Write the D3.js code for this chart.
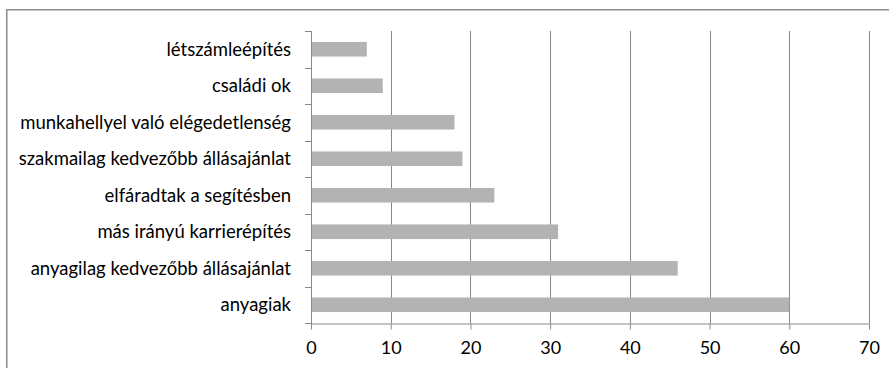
<!DOCTYPE html>
<html><head><meta charset="utf-8">
<script src="https://cdn.jsdelivr.net/npm/d3@7"></script>
<style>body{margin:0;background:#fff;overflow:hidden}svg{display:block}</style>
</head><body>
<svg id="c" width="889" height="368"></svg>
<script>
const categories = ["létszámleépítés","családi ok","munkahellyel való elégedetlenség","szakmailag kedvezőbb állásajánlat","elfáradtak a segítésben","más irányú karrierépítés","anyagilag kedvezőbb állásajánlat","anyagiak"];
const values = [7, 9, 18, 19, 23, 31, 46, 60];
const xTicks = [0,10,20,30,40,50,60,70];

const svg = d3.select("#c");
const font = "Lato, 'Open Sans', sans-serif";
// frame (only left and top edges visible)
svg.append("path").attr("d","M6.75,368 V9.75 H889")
  .attr("fill","none").attr("stroke","#8c8c8c").attr("stroke-width",1.5);

const x = d3.scaleLinear().domain([0,70]).range([311,869]);
const y = d3.scaleBand().domain(categories).range([31,323]).paddingInner(0.6).paddingOuter(0.3);
const band = d3.scaleBand().domain(categories).range([31,323]);

// gridlines
svg.append("g").selectAll("line").data(xTicks.slice(1)).join("line")
  .attr("x1",d=>Math.round(x(d))+0.5).attr("x2",d=>Math.round(x(d))+0.5)
  .attr("y1",31).attr("y2",323).attr("stroke","#878787").attr("stroke-width",1);

// bars
svg.append("g").selectAll("rect").data(values).join("rect")
  .attr("x",x(0)+1).attr("y",(d,i)=>y(categories[i]))
  .attr("width",d=>x(d)-x(0)-1).attr("height",y.bandwidth())
  .attr("fill","#b3b3b3");

// x axis
const xa = svg.append("g").attr("transform","translate(0,323.5)")
  .call(d3.axisBottom(x).tickValues(xTicks).tickSize(6).tickSizeOuter(0).tickPadding(12));
xa.select(".domain").attr("stroke","#878787");
xa.selectAll(".tick line").attr("stroke","#878787");
xa.selectAll("text").attr("font-family",font).attr("font-size","18px").attr("fill","#000");

// y axis line and ticks at band boundaries
svg.append("line").attr("x1",311.5).attr("x2",311.5).attr("y1",31).attr("y2",324).attr("stroke","#878787");
const bounds = categories.map(c=>band(c)).concat([323]);
svg.append("g").selectAll("line").data(bounds).join("line")
  .attr("x1",305).attr("x2",311.5).attr("y1",d=>Math.round(d)+0.5).attr("y2",d=>Math.round(d)+0.5)
  .attr("stroke","#878787");

// y labels
svg.append("g").selectAll("text").data(categories).join("text")
  .attr("x",291).attr("y",d=>band(d)+band.bandwidth()/2).attr("dy","0.35em")
  .attr("text-anchor","end").attr("font-family",font).attr("font-size","18.5px").attr("fill","#000")
  .text(d=>d);
</script>
</body></html>
